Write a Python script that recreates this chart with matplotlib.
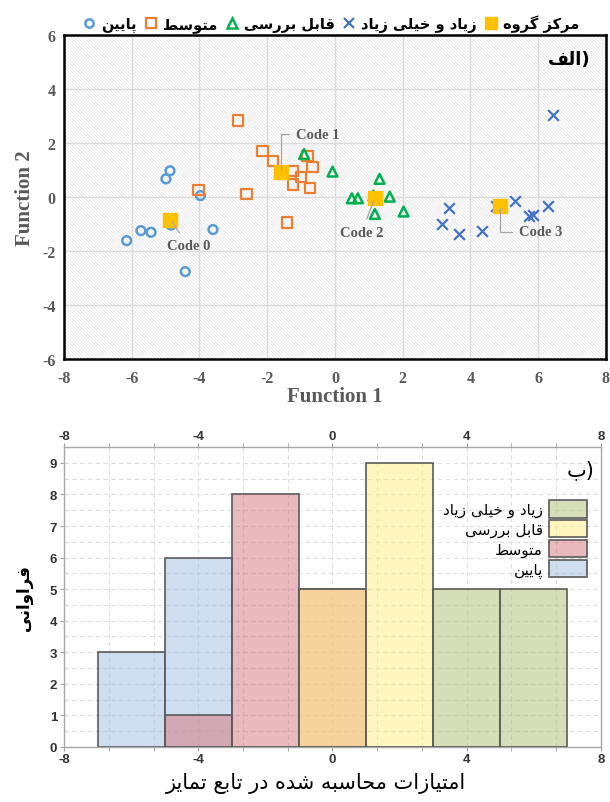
import matplotlib
matplotlib.use('Agg')
import matplotlib.pyplot as plt
from matplotlib.patches import Rectangle, Patch
from matplotlib.lines import Line2D

# --- simple Persian shaping (no reshaper installed) ---
FORMS = {
    'ا': (0xFE8D, 0xFE8E, None, None), 'ب': (0xFE8F, 0xFE90, 0xFE91, 0xFE92),
    'پ': (0xFB56, 0xFB57, 0xFB58, 0xFB59), 'ت': (0xFE95, 0xFE96, 0xFE97, 0xFE98),
    'ح': (0xFEA1, 0xFEA2, 0xFEA3, 0xFEA4), 'خ': (0xFEA5, 0xFEA6, 0xFEA7, 0xFEA8),
    'د': (0xFEA9, 0xFEAA, None, None), 'ر': (0xFEAD, 0xFEAE, None, None),
    'ز': (0xFEAF, 0xFEB0, None, None), 'س': (0xFEB1, 0xFEB2, 0xFEB3, 0xFEB4),
    'ش': (0xFEB5, 0xFEB6, 0xFEB7, 0xFEB8), 'ط': (0xFEC1, 0xFEC2, 0xFEC3, 0xFEC4),
    'ع': (0xFEC9, 0xFECA, 0xFECB, 0xFECC), 'ف': (0xFED1, 0xFED2, 0xFED3, 0xFED4),
    'ق': (0xFED5, 0xFED6, 0xFED7, 0xFED8), 'ک': (0xFB8E, 0xFB8F, 0xFB90, 0xFB91),
    'گ': (0xFB92, 0xFB93, 0xFB94, 0xFB95), 'ل': (0xFEDD, 0xFEDE, 0xFEDF, 0xFEE0),
    'م': (0xFEE1, 0xFEE2, 0xFEE3, 0xFEE4), 'ن': (0xFEE5, 0xFEE6, 0xFEE7, 0xFEE8),
    'ه': (0xFEE9, 0xFEEA, 0xFEEB, 0xFEEC), 'و': (0xFEED, 0xFEEE, None, None),
    'ی': (0xFBFC, 0xFBFD, 0xFBFE, 0xFBFF),
}


def fa(text):
    out = []
    for i, ch in enumerate(text):
        if ch not in FORMS:
            out.append(ch)
            continue
        prev = text[i - 1] if i > 0 else ''
        nxt = text[i + 1] if i + 1 < len(text) else ''
        join_prev = prev in FORMS and FORMS[prev][2] is not None
        join_next = FORMS[ch][2] is not None and nxt in FORMS
        iso, fin, ini, med = FORMS[ch]
        if join_prev and join_next:
            c = med
        elif join_prev:
            c = fin
        elif join_next:
            c = ini
        else:
            c = iso
        out.append(chr(c))
    return ''.join(out)[::-1]


# ---------------- data ----------------
low_x = [-4.87, -4.99, -3.97, -4.84, -5.73, -5.43, -6.15, -3.60, -4.42]
low_y = [0.97, 0.67, 0.05, -1.04, -1.25, -1.31, -1.62, -1.21, -2.77]

mid_x = [-2.87, -2.14, -1.83, -0.81, -0.66, -1.24, -1.00, -1.24, -0.74, -4.03, -2.61, -1.42]
mid_y = [2.84, 1.71, 1.32, 1.53, 1.12, 0.96, 0.73, 0.46, 0.32, 0.27, 0.12, -0.95]

rev_x = [-0.91, -0.07, 1.32, 0.50, 0.68, 1.14, 1.62, 1.18, 2.03]
rev_y = [1.59, 0.94, 0.67, -0.05, -0.05, 0.05, 0.01, -0.63, -0.54]

high_x = [6.45, 3.38, 3.16, 3.67, 4.35, 4.76, 5.32, 5.73, 5.84, 6.29]
high_y = [3.04, -0.41, -1.00, -1.37, -1.28, -0.35, -0.16, -0.69, -0.67, -0.35]

cent_x = [-4.86, -1.60, 1.18, 4.89]
cent_y = [-0.85, 0.91, -0.05, -0.32]
cent_labels = ['Code 0', 'Code 1', 'Code 2', 'Code 3']
label_x = [-4.33, -0.51, 0.79, 6.07]
label_y = [-1.80, 2.33, -1.31, -1.29]

group_names = ['پایین', 'متوسط', 'قابل بررسی', 'زیاد و خیلی زیاد']
centroid_name = 'مرکز گروه'

# histogram (bin left edge, count) per group
bin_width = 2
hist_low_edges = [-7, -5]
hist_low_counts = [3, 6]
hist_mid_edges = [-5, -3, -1]
hist_mid_counts = [1, 8, 5]
hist_rev_edges = [-1, 1]
hist_rev_counts = [5, 9]
hist_high_edges = [3, 5]
hist_high_counts = [5, 5]

# ---------------- figure ----------------
plt.rcParams['hatch.linewidth'] = 0.5
plt.rcParams['axes.unicode_minus'] = False
fig = plt.figure(figsize=(6.1, 8.03), dpi=100)

serif = 'Liberation Serif'
gray_txt = '#595959'

# ---- top: scatter ----
ax = fig.add_axes([0.105, 0.552, 0.888, 0.403])
ax.add_patch(Rectangle((0, 0), 1, 1, transform=ax.transAxes, facecolor='white',
                       edgecolor='#e2e2e2', hatch='\\' * 10, lw=0, zorder=0))
ax.set_xlim(-8, 8)
ax.set_ylim(-6, 6)
ax.set_xticks(range(-8, 9, 2))
ax.set_yticks(range(-6, 7, 2))
ax.grid(True, color='#dcdcdc', lw=1)
ax.set_axisbelow(True)
for s in ax.spines.values():
    s.set_linewidth(1.8)
    s.set_color('black')
ax.tick_params(axis='x', length=0, pad=8)
ax.tick_params(axis='y', length=0, pad=6)
for lab in ax.get_xticklabels() + ax.get_yticklabels():
    lab.set_fontfamily(serif)
    lab.set_fontweight('bold')
    lab.set_fontsize(11.5)
    lab.set_color(gray_txt)
ax.set_xlabel('Function 1', fontfamily=serif, fontweight='bold', fontsize=15,
              color=gray_txt, labelpad=0)
ax.set_ylabel('Function 2', fontfamily=serif, fontweight='bold', fontsize=15,
              color=gray_txt, labelpad=5)

c_low, c_mid, c_rev, c_high, c_cent = '#5B9BD5', '#ED7D31', '#00B050', '#4472C4', '#FFC000'
ax.scatter(low_x, low_y, s=40, marker='o', facecolors='none', edgecolors=c_low, linewidths=1.8, zorder=3)
ax.scatter(mid_x, mid_y, s=55, marker='s', facecolors='none', edgecolors=c_mid, linewidths=1.6, zorder=3)
ax.scatter(rev_x, rev_y, s=50, marker='^', facecolors='none', edgecolors=c_rev, linewidths=1.8, zorder=3)
ax.scatter(high_x, high_y, s=60, marker='x', color=c_high, linewidths=1.6, zorder=3)
ax.scatter(cent_x, cent_y, s=95, marker='s', color=c_cent, zorder=4)

styles = ['arc3', 'angle,angleA=0,angleB=90,rad=0', 'arc3', 'angle,angleA=0,angleB=90,rad=0']
for cx, cy, lx, ly, t, cs in zip(cent_x, cent_y, label_x, label_y, cent_labels, styles):
    ax.annotate(t, xy=(cx, cy), xytext=(lx, ly), ha='center', va='center',
                fontfamily=serif, fontweight='bold', fontsize=10.5, color=gray_txt,
                arrowprops=dict(arrowstyle='-', color='#a6a6a6', lw=0.9,
                                shrinkA=3, shrinkB=2, connectionstyle=cs), zorder=5)

ax.text(0.972, 0.926, fa('الف') + ')', transform=ax.transAxes, ha='right', va='center',
        fontfamily='DejaVu Sans', fontweight='bold', fontsize=13)

handles = [
    Line2D([], [], ls='none', marker='o', mfc='none', mec=c_low, mew=1.8, ms=6),
    Line2D([], [], ls='none', marker='s', mfc='none', mec=c_mid, mew=1.6, ms=7),
    Line2D([], [], ls='none', marker='^', mfc='none', mec=c_rev, mew=1.8, ms=7),
    Line2D([], [], ls='none', marker='x', color=c_high, mew=1.6, ms=7),
    Line2D([], [], ls='none', marker='s', color=c_cent, ms=8),
]
labels = [fa(n) for n in group_names] + [fa(centroid_name)]
fig.legend(handles, labels, loc='upper center', bbox_to_anchor=(0.543, 0.997), ncol=5,
           frameon=False, handlelength=0.8, handletextpad=0.4, columnspacing=0.6,
           prop=dict(family='DejaVu Sans', weight='bold', size=10.5))

# ---- bottom: histogram ----
bx = fig.add_axes([0.105, 0.0685, 0.88, 0.3735])
edge = '#5a5a5a'
bx.bar(hist_low_edges, hist_low_counts, width=bin_width, align='edge',
       facecolor=(159/255, 191/255, 223/255, 0.5), edgecolor=edge, lw=1.2, zorder=2)
bx.bar(hist_mid_edges, hist_mid_counts, width=bin_width, align='edge',
       facecolor=(212/255, 116/255, 124/255, 0.5), edgecolor=edge, lw=1.2, zorder=3)
bx.bar(hist_rev_edges, hist_rev_counts, width=bin_width, align='edge',
       facecolor=(255/255, 237/255, 127/255, 0.5), edgecolor=edge, lw=1.2, zorder=4)
bx.bar(hist_high_edges, hist_high_counts, width=bin_width, align='edge',
       facecolor=(175/255, 191/255, 115/255, 0.5), edgecolor=edge, lw=1.2, zorder=5)

bx.set_xlim(-8, 8)
bx.set_ylim(0, 9.5)
bx.set_xticks([-8, -4, 0, 4, 8])
bx.set_xticks([-8 + 4 / 3 * i for i in range(13)], minor=True)
bx.set_yticks(range(0, 10))
bx.set_yticks([i + 0.5 for i in range(10)], minor=True)
bx.grid(True, which='both', color='#dedede', ls=(0, (4, 3)), lw=0.8)
bx.set_axisbelow(True)
bx.tick_params(axis='x', which='both', top=True, labeltop=True, direction='out',
               length=3, color='#a0a0a0', labelsize=9.5, pad=1)
bx.tick_params(axis='y', which='major', direction='out', length=3, color='#a0a0a0',
               labelsize=9.5, pad=2)
bx.tick_params(axis='y', which='minor', length=0)
for lab in bx.get_xticklabels() + bx.get_yticklabels():
    lab.set_fontfamily('Liberation Sans')
    lab.set_fontweight('bold')
    lab.set_color('#333333')
for s in bx.spines.values():
    s.set_color('#a8a8a8')
    s.set_linewidth(1.0)

bx.set_xlabel(fa('امتیازات محاسبه شده در تابع تمایز'), fontfamily='DejaVu Sans',
              fontsize=15, labelpad=6)
bx.xaxis.set_label_coords(0.47, -0.085)
bx.set_ylabel(fa('فراوانی'), fontfamily='DejaVu Sans', fontweight='bold',
              fontsize=12, labelpad=12)
bx.text(0.989, 0.927, fa('ب') + ')', transform=bx.transAxes, ha='right', va='center',
        fontfamily='DejaVu Sans', fontsize=15)

leg_handles = [
    Patch(facecolor=(175/255, 191/255, 115/255, 0.5), edgecolor=edge, lw=1.2),
    Patch(facecolor=(255/255, 237/255, 127/255, 0.5), edgecolor=edge, lw=1.2),
    Patch(facecolor=(212/255, 116/255, 124/255, 0.5), edgecolor=edge, lw=1.2),
    Patch(facecolor=(159/255, 191/255, 223/255, 0.5), edgecolor=edge, lw=1.2),
]
leg_labels = [fa(n) for n in group_names[::-1]]
bx.legend(leg_handles, leg_labels, loc='upper right', bbox_to_anchor=(1.0, 0.868),
          frameon=False, markerfirst=False, handlelength=2.5, handleheight=1.35,
          labelspacing=0.18, handletextpad=0.4,
          prop=dict(family='DejaVu Sans', size=11))

fig.savefig('out.png', dpi=100)
